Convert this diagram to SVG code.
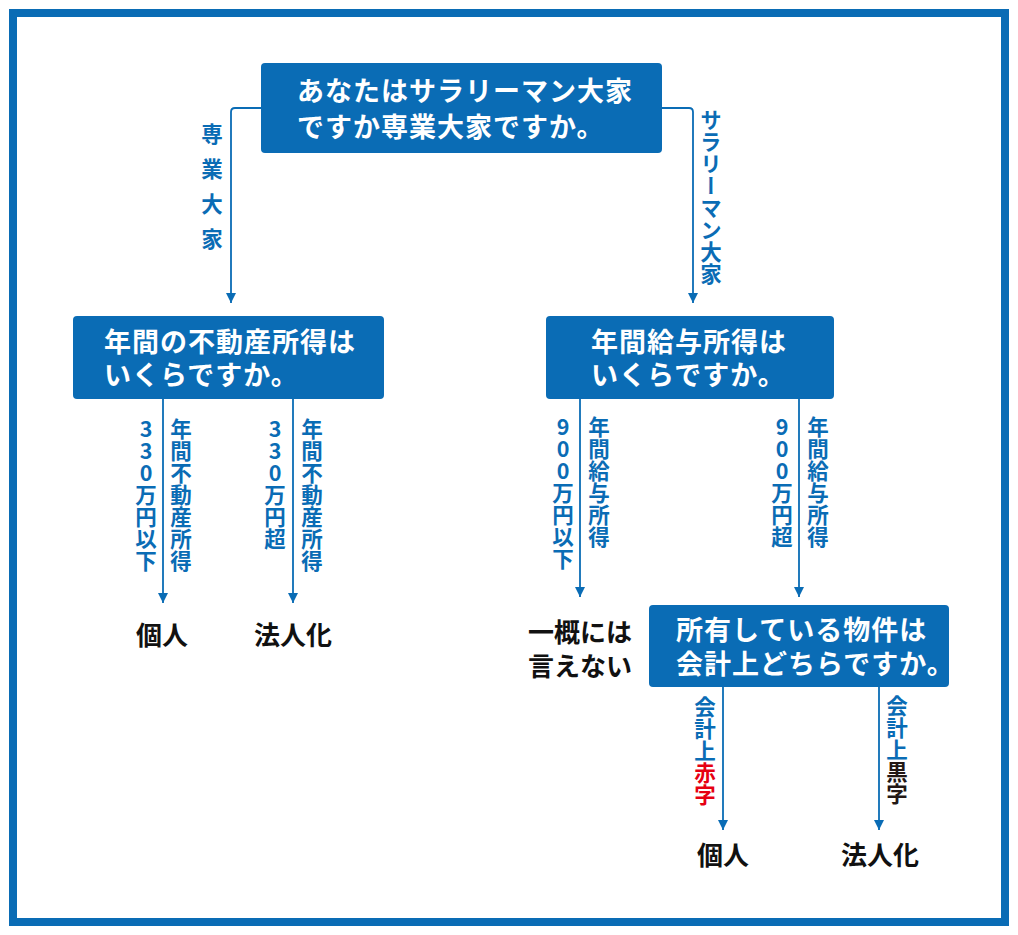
<svg xmlns="http://www.w3.org/2000/svg" width="1018" height="935" viewBox="0 0 1018 935">
<defs>
<marker id="arr" markerUnits="userSpaceOnUse" markerWidth="12" markerHeight="12" refX="10" refY="5" orient="auto">
<path d="M0,0 L10,5 L0,10 z" fill="#0a6cb5"/>
</marker>
</defs>
<style>
.box{fill:#0a6cb5}
.bt{font-family:"Noto Sans CJK JP","Noto Sans",sans-serif;font-weight:700;font-size:27px;fill:#ffffff;letter-spacing:1px}
.term{font-family:"Noto Sans CJK JP","Noto Sans",sans-serif;font-weight:700;font-size:26px;fill:#111111;text-anchor:middle}
.vl{font-family:"Noto Sans CJK JP","Noto Sans",sans-serif;font-weight:700;font-size:21.5px;fill:#0a6cb5;writing-mode:vertical-rl;text-orientation:upright;letter-spacing:0.5px}
.con{fill:none;stroke:#0a6cb5;stroke-width:1.8;marker-end:url(#arr)}
</style>
<rect x="13" y="13" width="992" height="909" fill="#ffffff" stroke="#0a6cb5" stroke-width="8"/>

<g id="connectors">
<path class="con" d="M261,108 H235 Q231,108 231,112 V303"/>
<path class="con" d="M662,108 H689 Q693,108 693,112 V303"/>
<path class="con" d="M163,399 V603"/>
<path class="con" d="M293,399 V603"/>
<path class="con" d="M580,399 V597"/>
<path class="con" d="M799,399 V597"/>
<path class="con" d="M723,687 V830"/>
<path class="con" d="M879,687 V830"/>
</g>

<g id="edge-labels">
<text class="vl" x="212" y="123" style="letter-spacing:13.5px">専業大家</text>
<text class="vl" x="711" y="109">サラリーマン大家</text>
<text class="vl" x="146" y="418">330万円以下</text>
<text class="vl" x="181" y="418">年間不動産所得</text>
<text class="vl" x="275" y="418">330万円超</text>
<text class="vl" x="312" y="418">年間不動産所得</text>
<text class="vl" x="563" y="416">900万円以下</text>
<text class="vl" x="599" y="416">年間給与所得</text>
<text class="vl" x="782" y="416">900万円超</text>
<text class="vl" x="818" y="416">年間給与所得</text>
<text class="vl" x="705" y="696">会計上<tspan fill="#e60012">赤字</tspan></text>
<text class="vl" x="897" y="695">会計上<tspan fill="#231815">黒字</tspan></text>
</g>

<g id="q1">
<rect class="box" x="261" y="63" width="401" height="90" rx="4"/>
<text class="bt" x="297" y="101">あなたはサラリーマン大家</text>
<text class="bt" x="297" y="137">ですか専業大家ですか。</text>
</g>

<g id="q2">
<rect class="box" x="73" y="316" width="311" height="83" rx="4"/>
<text class="bt" x="104" y="352">年間の不動産所得は</text>
<text class="bt" x="104" y="385">いくらですか。</text>
</g>

<g id="q3">
<rect class="box" x="546" y="316" width="288" height="83" rx="4"/>
<text class="bt" x="591" y="352">年間給与所得は</text>
<text class="bt" x="591" y="385">いくらですか。</text>
</g>

<g id="q4">
<rect class="box" x="649" y="605" width="300" height="82" rx="4"/>
<text class="bt" x="676" y="640">所有している物件は</text>
<text class="bt" x="676" y="674">会計上どちらですか。</text>
</g>

<g id="t1"><text class="term" x="162" y="645">個人</text></g>
<g id="t2"><text class="term" x="293" y="645">法人化</text></g>
<g id="t3">
<text class="term" x="580" y="642">一概には</text>
<text class="term" x="580" y="676">言えない</text>
</g>
<g id="t4"><text class="term" x="723" y="865">個人</text></g>
<g id="t5"><text class="term" x="880" y="865">法人化</text></g>
</svg>
